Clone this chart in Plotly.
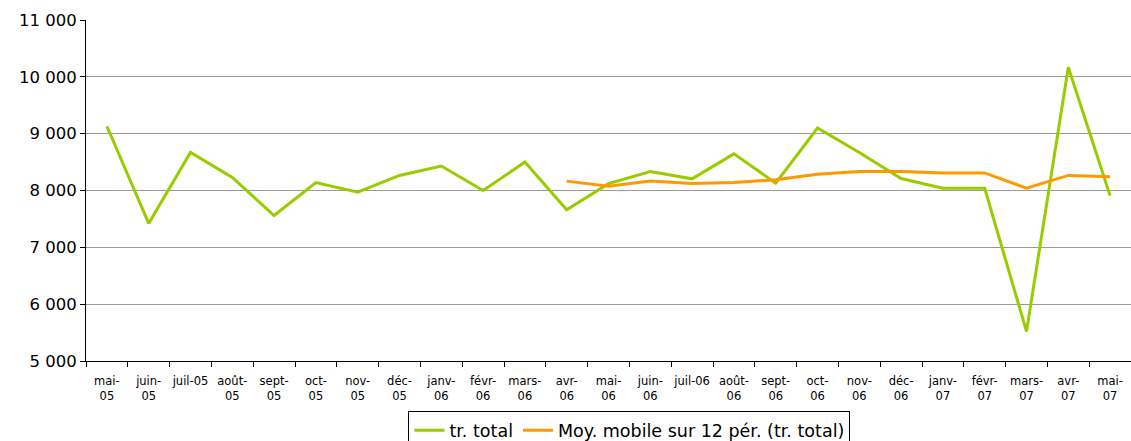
import plotly.graph_objects as go

# ====== données ======
mois = ["mai-05", "juin-05", "juil-05", "août-05", "sept-05", "oct-05", "nov-05",
        "déc-05", "janv-06", "févr-06", "mars-06", "avr-06", "mai-06", "juin-06",
        "juil-06", "août-06", "sept-06", "oct-06", "nov-06", "déc-06", "janv-07",
        "févr-07", "mars-07", "avr-07", "mai-07"]

tr_total = [9130, 7420, 8670, 8230, 7560, 8140, 7970, 8265, 8430, 8000, 8500,
            7660, 8120, 8335, 8205, 8645, 8130, 9100, 8670, 8210, 8040, 8040,
            5520, 10170, 7910]

moy_mobile = [None] * 11 + [8165, 8075, 8165, 8125, 8140, 8190, 8285, 8335,
                            8335, 8310, 8310, 8040, 8265, 8240]

tick_labels = ["mai-<br>05", "juin-<br>05", "juil-05", "août-<br>05", "sept-<br>05",
               "oct-<br>05", "nov-<br>05", "déc-<br>05", "janv-<br>06", "févr-<br>06",
               "mars-<br>06", "avr-<br>06", "mai-<br>06", "juin-<br>06", "juil-06",
               "août-<br>06", "sept-<br>06", "oct-<br>06", "nov-<br>06", "déc-<br>06",
               "janv-<br>07", "févr-<br>07", "mars-<br>07", "avr-<br>07", "mai-<br>07"]

y_vals = [5000, 6000, 7000, 8000, 9000, 10000, 11000]
y_text = ["5 000", "6 000", "7 000", "8 000", "9 000", "10 000", "11 000"]

# ====== figure ======
fig = go.Figure()
fig.add_trace(go.Scatter(x=mois, y=tr_total, name="tr. total", mode="lines",
                         line=dict(color="#99CC00", width=3)))
fig.add_trace(go.Scatter(x=mois, y=moy_mobile, name="Moy. mobile sur 12 pér. (tr. total)",
                         mode="lines", line=dict(color="#FF9900", width=3)))

fig.update_layout(
    width=1131, height=441,
    margin=dict(l=86, r=0, t=20, b=80, autoexpand=False),
    plot_bgcolor="white", paper_bgcolor="white",
    font=dict(family="DejaVu Sans", color="black"),
    legend=dict(orientation="h", x=0.52, xanchor="center", y=-0.148, yanchor="top",
                bordercolor="black", borderwidth=1, font=dict(size=17.5),
                itemwidth=30, tracegroupgap=0),
)
fig.update_xaxes(
    type="category", tickvals=mois, ticktext=tick_labels,
    tickson="boundaries", ticks="outside", ticklen=5, tickcolor="black",
    showline=True, linecolor="black", linewidth=1, showgrid=False,
    tickfont=dict(size=11.5), tickangle=0, range=[-0.5, 24.5], automargin=False,
    ticklabelstandoff=9,
)
fig.update_yaxes(
    range=[5000, 11000], tickvals=y_vals, ticktext=y_text,
    ticks="outside", ticklen=5, tickcolor="black",
    showline=True, linecolor="black", linewidth=1,
    showgrid=True, gridcolor="#999999", gridwidth=1,
    tickfont=dict(size=16.5), zeroline=False, automargin=False,
)

# pas de marge de page autour du graphique
fig.write_html("out.html", config={"displayModeBar": False},
               post_script="document.body.style.margin='0';")
